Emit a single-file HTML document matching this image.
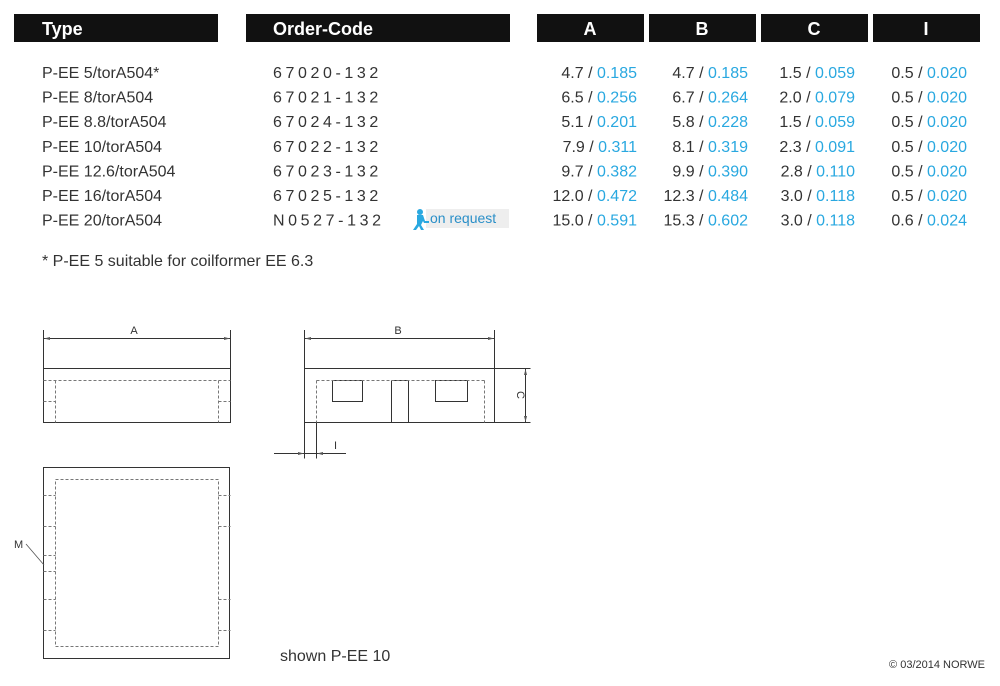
<!DOCTYPE html>
<html><head><meta charset="utf-8"><style>
body{margin:0;background:#fff;}
svg{display:block;font-family:"Liberation Sans",sans-serif;}
.t{font-size:16px;fill:#333;}
.b{fill:#29a8e0;}
.h{font-size:18px;font-weight:bold;fill:#fff;}
.d{font-size:11px;fill:#333;}
</style></head><body>
<svg width="1000" height="686" viewBox="0 0 1000 686">
<g fill="#111">
<rect x="14" y="14" width="204" height="28"/>
<rect x="246" y="14" width="264" height="28"/>
<rect x="537" y="14" width="107" height="28"/>
<rect x="649" y="14" width="107" height="28"/>
<rect x="761" y="14" width="107" height="28"/>
<rect x="873" y="14" width="107" height="28"/>
</g>
<text class="h" x="42" y="35">Type</text>
<text class="h" x="273" y="35">Order-Code</text>
<text class="h" x="590" y="35" text-anchor="middle">A</text>
<text class="h" x="702" y="35" text-anchor="middle">B</text>
<text class="h" x="814" y="35" text-anchor="middle">C</text>
<text class="h" x="926" y="35" text-anchor="middle">I</text>
<g class="t">
<text x="42" y="78">P-EE 5/torA504*</text>
<text x="42" y="102.6">P-EE 8/torA504</text>
<text x="42" y="127.2">P-EE 8.8/torA504</text>
<text x="42" y="151.8">P-EE 10/torA504</text>
<text x="42" y="176.4">P-EE 12.6/torA504</text>
<text x="42" y="201">P-EE 16/torA504</text>
<text x="42" y="225.6">P-EE 20/torA504</text>
</g>
<g class="t" letter-spacing="3.6">
<text x="273" y="78">67020-132</text>
<text x="273" y="102.6">67021-132</text>
<text x="273" y="127.2">67024-132</text>
<text x="273" y="151.8">67022-132</text>
<text x="273" y="176.4">67023-132</text>
<text x="273" y="201">67025-132</text>
<text x="273" y="225.6">N0527-132</text>
</g>
<g class="t" text-anchor="end">
<text x="637" y="78">4.7 / <tspan class="b">0.185</tspan></text>
<text x="748" y="78">4.7 / <tspan class="b">0.185</tspan></text>
<text x="855" y="78">1.5 / <tspan class="b">0.059</tspan></text>
<text x="967" y="78">0.5 / <tspan class="b">0.020</tspan></text>
<text x="637" y="102.6">6.5 / <tspan class="b">0.256</tspan></text>
<text x="748" y="102.6">6.7 / <tspan class="b">0.264</tspan></text>
<text x="855" y="102.6">2.0 / <tspan class="b">0.079</tspan></text>
<text x="967" y="102.6">0.5 / <tspan class="b">0.020</tspan></text>
<text x="637" y="127.2">5.1 / <tspan class="b">0.201</tspan></text>
<text x="748" y="127.2">5.8 / <tspan class="b">0.228</tspan></text>
<text x="855" y="127.2">1.5 / <tspan class="b">0.059</tspan></text>
<text x="967" y="127.2">0.5 / <tspan class="b">0.020</tspan></text>
<text x="637" y="151.8">7.9 / <tspan class="b">0.311</tspan></text>
<text x="748" y="151.8">8.1 / <tspan class="b">0.319</tspan></text>
<text x="855" y="151.8">2.3 / <tspan class="b">0.091</tspan></text>
<text x="967" y="151.8">0.5 / <tspan class="b">0.020</tspan></text>
<text x="637" y="176.4">9.7 / <tspan class="b">0.382</tspan></text>
<text x="748" y="176.4">9.9 / <tspan class="b">0.390</tspan></text>
<text x="855" y="176.4">2.8 / <tspan class="b">0.110</tspan></text>
<text x="967" y="176.4">0.5 / <tspan class="b">0.020</tspan></text>
<text x="637" y="201">12.0 / <tspan class="b">0.472</tspan></text>
<text x="748" y="201">12.3 / <tspan class="b">0.484</tspan></text>
<text x="855" y="201">3.0 / <tspan class="b">0.118</tspan></text>
<text x="967" y="201">0.5 / <tspan class="b">0.020</tspan></text>
<text x="637" y="225.6">15.0 / <tspan class="b">0.591</tspan></text>
<text x="748" y="225.6">15.3 / <tspan class="b">0.602</tspan></text>
<text x="855" y="225.6">3.0 / <tspan class="b">0.118</tspan></text>
<text x="967" y="225.6">0.6 / <tspan class="b">0.024</tspan></text>
</g>
<!-- on request -->
<rect x="426" y="209" width="83" height="19" fill="#eee"/>
<text x="430" y="223" font-size="14" fill="#2a8fc8">on request</text>
<g fill="#29a8e0">
<circle cx="420" cy="212" r="3"/>
<path d="M417 215 h6 l2 6 h4 v2 h-5 l-1 -2 -2 4 3 5 h-3 l-2-4 -3 4 h-3 l4-6 z"/>
</g>
<text class="t" x="42" y="266">* P-EE 5 suitable for coilformer EE 6.3</text>
<text class="t" x="280" y="661" font-size="14.5">shown P-EE 10</text>
<text x="985" y="668" font-size="11" fill="#333" text-anchor="end">© 03/2014 NORWE</text>
<!-- drawings -->
<g stroke="#333" fill="none" stroke-width="1">
<rect x="43.5" y="368.5" width="187" height="54"/>
<path d="M43.5 330v38M230.5 330v38M43.5 338.5h187"/>
<rect x="304.5" y="368.5" width="190" height="54"/>
<path d="M304.5 330v38M494.5 330v38M304.5 338.5h190"/>
<rect x="332.5" y="380.5" width="30" height="21"/>
<rect x="435.5" y="380.5" width="32" height="21"/>
<path d="M391.5 380.5v42M408.5 380.5v42M391.5 380.5h17"/>
<path d="M494.5 368.5h36M494.5 422.5h36M525.5 368.5v54"/>
<path d="M304.5 422.5v36M316.5 422.5v36M274 453.5h72"/>
<rect x="43.5" y="467.5" width="186" height="191"/>
<path d="M26 544 L44 565" stroke="#555" stroke-width="0.8"/>
</g>
<g stroke="#777" fill="none" stroke-dasharray="3,2" stroke-width="1">
<path d="M43.5 380.5h187M55.5 380.5v42M218.5 380.5v42M43.5 401.5h12M218.5 401.5h12"/>
<path d="M316.5 380.5h168M316.5 380.5v42M484.5 380.5v42"/>
<rect x="55.5" y="479.5" width="163" height="167"/>
<path d="M43.5 495.5h12M43.5 526.5h12M43.5 555.5h12M43.5 571.5h12M43.5 599.5h12M43.5 630.5h12M218.5 495.5h12M218.5 526.5h12M218.5 599.5h12M218.5 630.5h12"/>
</g>
<g fill="#555">
<path d="M44 338.5l6-1.5v3z M230 338.5l-6-1.5v3z M305 338.5l6-1.5v3z M494 338.5l-6-1.5v3z"/>
<path d="M525.5 369l-1.5 6h3z M525.5 422l-1.5-6h3z"/>
<path d="M304 453.5l-6-1.5v3z M317 453.5l6-1.5v3z"/>
</g>
<text class="d" x="134" y="334" text-anchor="middle">A</text>
<text class="d" x="398" y="334" text-anchor="middle">B</text>
<text class="d" x="517" y="395" text-anchor="middle" transform="rotate(90 517 395)">C</text>
<text class="d" x="334" y="449">I</text>
<text class="d" x="14" y="548">M</text>
</svg>
</body></html>
